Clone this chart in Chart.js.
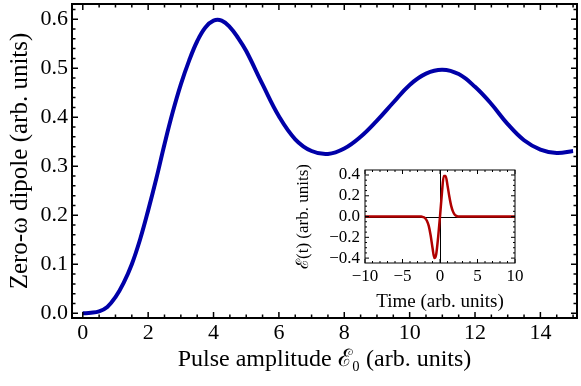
<!DOCTYPE html>
<html>
<head>
<meta charset="utf-8">
<script src="https://cdn.jsdelivr.net/npm/chart.js@4/dist/chart.umd.min.js"></script>
<style>
html, body { margin: 0; padding: 0; background: #fff; }
#wrap { position: relative; width: 581px; height: 386px; }
#main { position: absolute; left: 0; top: 0; }
#inset { position: absolute; left: 290px; top: 165px; }
</style>
</head>
<body>
<div id="wrap">
  <canvas id="main" width="581" height="386"></canvas>
  <canvas id="inset" width="240" height="150"></canvas>
</div>
<script>
// main curve: zero-omega dipole vs pulse amplitude
const amplitude = [0, 0.25, 0.5, 0.75, 1, 1.25, 1.5, 1.75, 2, 2.25, 2.5, 2.75, 3, 3.25, 3.5, 3.75, 4, 4.25, 4.5, 4.75, 5,
    5.5, 6, 6.5, 7, 7.5, 8, 8.5, 9, 9.5, 10, 10.5, 11, 11.5, 12, 12.5, 13, 13.5, 14, 14.5, 15];
const dipole = [0, 0.001, 0.004, 0.013, 0.033, 0.062, 0.10, 0.15, 0.21, 0.275, 0.345, 0.41, 0.467, 0.515, 0.555, 0.583, 0.597, 0.597, 0.584, 0.562, 0.535,
    0.467, 0.402, 0.355, 0.331, 0.325, 0.336, 0.36, 0.393, 0.43, 0.466, 0.489, 0.497, 0.488, 0.462, 0.427, 0.386, 0.353, 0.334, 0.327, 0.331];

// inset: pulse shape
const time = [-10, -3, -2.5, -2.25, -2, -1.75, -1.5, -1.25, -1, -0.75, -0.5, -0.25, 0, 0.25, 0.5, 0.75, 1, 1.25, 1.5, 1.75, 2, 2.25, 2.5, 3, 10];
const field = [0, 0, 0, -0.005, -0.015, -0.04, -0.09, -0.18, -0.3, -0.4, -0.36, -0.2, 0, 0.22, 0.39, 0.39, 0.30, 0.19, 0.1, 0.045, 0.015, 0.004, 0, 0, 0];

const xTicks = [0, 2, 4, 6, 8, 10, 12, 14];
const yTicks = [0, 0.1, 0.2, 0.3, 0.4, 0.5, 0.6];
const insetXTicks = [-10, -5, 0, 5, 10];
const insetYTicks = [-0.4, -0.2, 0, 0.2, 0.4];

const serif = '"Liberation Serif", "DejaVu Serif", serif';

// mathematica style frame with ticks pointing inwards
function framePlugin(o) {
    return {
        id: 'frame',
        beforeDatasetsDraw(chart) {
            if (!o.zeroLines) return;
            const {ctx, chartArea: a, scales: {x, y}} = chart;
            ctx.save();
            ctx.strokeStyle = '#000';
            ctx.lineWidth = 1;
            ctx.beginPath();
            const x0 = Math.round(x.getPixelForValue(0)) + 0.5;
            const y0 = Math.round(y.getPixelForValue(0)) + 0.5;
            ctx.moveTo(x0, a.top); ctx.lineTo(x0, a.bottom);
            ctx.moveTo(a.left, y0); ctx.lineTo(a.right, y0);
            ctx.stroke();
            ctx.restore();
        },
        afterDraw(chart) {
            const {ctx, chartArea: a, scales: {x, y}} = chart;
            ctx.save();
            ctx.strokeStyle = '#000';
            ctx.lineWidth = o.tickWidth;
            ctx.beginPath();
            const xr = Math.round(o.xMajor / o.xMinor);
            for (let i = Math.ceil(x.min / o.xMinor); i * o.xMinor <= x.max; i++) {
                const px = x.getPixelForValue(i * o.xMinor);
                const len = i % xr === 0 ? o.major : o.minor;
                ctx.moveTo(px, a.bottom); ctx.lineTo(px, a.bottom - len);
                ctx.moveTo(px, a.top); ctx.lineTo(px, a.top + len);
            }
            const yr = Math.round(o.yMajor / o.yMinor);
            for (let i = Math.ceil(y.min / o.yMinor - 1e-6); i * o.yMinor <= y.max; i++) {
                const py = y.getPixelForValue(i * o.yMinor);
                const len = i % yr === 0 ? o.major : o.minor;
                ctx.moveTo(a.left, py); ctx.lineTo(a.left + len, py);
                ctx.moveTo(a.right, py); ctx.lineTo(a.right - len, py);
            }
            ctx.stroke();
            ctx.lineWidth = o.width;
            ctx.strokeRect(a.left, a.top, a.right - a.left, a.bottom - a.top);
            ctx.restore();
        }
    };
}

new Chart(document.getElementById('main').getContext('2d'), {
    type: 'scatter',
    data: {
        datasets: [{
            data: amplitude.map((v, i) => ({x: v, y: dipole[i]})),
            showLine: true,
            borderColor: '#0000a8',
            borderWidth: 4,
            pointRadius: 0,
            tension: 0.4
        }]
    },
    options: {
        responsive: false,
        animation: false,
        layout: {padding: {top: 4, right: 4, left: 0, bottom: 0}},
        plugins: {legend: {display: false}, tooltip: {enabled: false}},
        scales: {
            x: {
                type: 'linear', min: -0.33, max: 15.12,
                afterBuildTicks: s => { s.ticks = xTicks.map(v => ({value: v})); },
                afterFit: s => { s.height = 68; s.paddingLeft = 0; s.paddingRight = 0; },
                grid: {display: false, drawTicks: false}, border: {display: false},
                ticks: {color: '#000', font: {family: serif, size: 22}, padding: 2, maxRotation: 0, autoSkip: false},
                title: {display: true, text: 'Pulse amplitude ℰ₀ (arb. units)', color: '#000',
                    font: {family: serif, size: 24}, padding: {top: 0, bottom: 12}}
            },
            y: {
                type: 'linear', min: -0.0096, max: 0.631,
                afterBuildTicks: s => { s.ticks = yTicks.map(v => ({value: v})); },
                afterFit: s => { s.width = 72; s.paddingTop = 0; s.paddingBottom = 0; },
                grid: {display: false, drawTicks: false}, border: {display: false},
                ticks: {color: '#000', font: {family: serif, size: 22}, padding: 4, autoSkip: false, callback: v => v.toFixed(1)},
                title: {display: true, text: 'Zero-ω dipole (arb. units)', color: '#000',
                    font: {family: serif, size: 25}, padding: {top: 5, bottom: 0}}
            }
        }
    },
    plugins: [framePlugin({width: 2, tickWidth: 1.5, major: 6, minor: 3.5, xMajor: 2, xMinor: 0.5, yMajor: 0.1, yMinor: 0.02})]
});

const minus = s => String(s).replace('-', '\u2212');

new Chart(document.getElementById('inset').getContext('2d'), {
    type: 'scatter',
    data: {
        datasets: [{
            data: time.map((v, i) => ({x: v, y: field[i]})),
            showLine: true,
            borderColor: '#b00000',
            borderWidth: 2.5,
            pointRadius: 0,
            cubicInterpolationMode: 'monotone'
        }]
    },
    options: {
        responsive: false,
        animation: false,
        layout: {padding: {top: 5, right: 15, left: 0, bottom: 0}},
        plugins: {legend: {display: false}, tooltip: {enabled: false}},
        scales: {
            x: {
                type: 'linear', min: -10, max: 10,
                afterBuildTicks: s => { s.ticks = insetXTicks.map(v => ({value: v})); },
                afterFit: s => { s.height = 52; s.paddingLeft = 0; s.paddingRight = 0; },
                grid: {display: false, drawTicks: false}, border: {display: false},
                ticks: {color: '#000', font: {family: serif, size: 17}, padding: 3, maxRotation: 0, autoSkip: false, callback: v => minus(v)},
                title: {display: true, text: 'Time (arb. units)', color: '#000',
                    font: {family: serif, size: 19}, padding: {top: 0, bottom: 2}}
            },
            y: {
                type: 'linear', min: -0.447, max: 0.448,
                afterBuildTicks: s => { s.ticks = insetYTicks.map(v => ({value: v})); },
                afterFit: s => { s.width = 75; s.paddingTop = 0; s.paddingBottom = 0; },
                grid: {display: false, drawTicks: false}, border: {display: false},
                ticks: {color: '#000', font: {family: serif, size: 17}, padding: 5, autoSkip: false, callback: v => minus(v.toFixed(1))},
                title: {display: true, text: 'ℰ(t) (arb. units)', color: '#000',
                    font: {family: serif, size: 17}, padding: {top: 3, bottom: 0}}
            }
        }
    },
    plugins: [framePlugin({width: 1, tickWidth: 1, major: 4, minor: 2, xMajor: 5, xMinor: 1, yMajor: 0.2, yMinor: 0.05, zeroLines: true})]
});
</script>
</body>
</html>
